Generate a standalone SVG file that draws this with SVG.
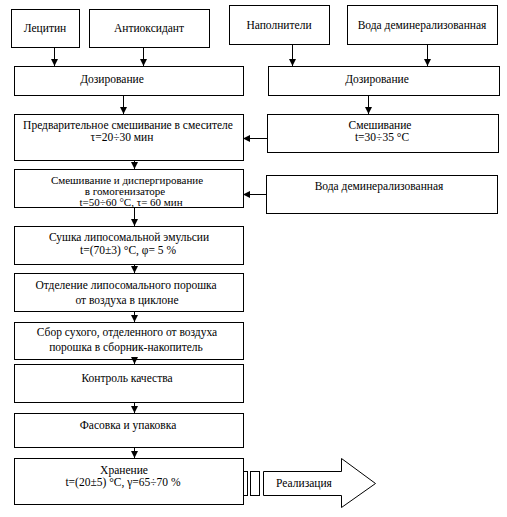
<svg xmlns="http://www.w3.org/2000/svg" width="507" height="517" viewBox="0 0 507 517" font-family="'Liberation Serif', 'DejaVu Serif', serif">
<defs>
<style>
rect.b{fill:#fff;stroke:#000;stroke-width:1}
text{font-family:'Liberation Serif','DejaVu Serif',serif;font-size:11.5px;fill:#000;text-anchor:middle}
text.s{font-size:11px}
.c line{stroke:#000;stroke-width:1;marker-end:url(#ah)}
</style>
<marker id="ah" markerUnits="userSpaceOnUse" markerWidth="8" markerHeight="8" refX="7" refY="3.5" orient="auto">
<path d="M0,0 L7,3.5 L0,7 z" fill="#000"/>
</marker>
</defs>
<rect width="507" height="517" fill="#fff"/>
<g id="n-lecithin"><rect class="b" x="11.5" y="9.5" width="68" height="38"/><text x="45" y="32">Лецитин</text></g>
<g id="n-antioxidant"><rect class="b" x="89.5" y="9.5" width="120" height="38"/><text x="149" y="32">Антиоксидант</text></g>
<g id="n-fillers"><rect class="b" x="229.5" y="5.5" width="100" height="39"/><text x="279" y="29">Наполнители</text></g>
<g id="n-water1"><rect class="b" x="347.5" y="5.5" width="150" height="39"/><text x="422" y="29">Вода деминерализованная</text></g>
<g id="n-dose-left"><rect class="b" x="14.5" y="66.5" width="229" height="29"/><text x="112" y="83">Дозирование</text></g>
<g id="n-dose-right"><rect class="b" x="268.5" y="66.5" width="231" height="29"/><text x="377" y="83">Дозирование</text></g>
<g id="n-premix"><rect class="b" x="14.5" y="114.5" width="229" height="46"/><text x="128" y="129">Предварительное смешивание в смесителе</text><text x="122" y="141">τ=20÷30 мин</text></g>
<g id="n-mix"><rect class="b" x="267.5" y="114.5" width="231" height="38"/><text x="380" y="129">Смешивание</text><text x="382" y="141">t=30÷35 °С</text></g>
<g id="n-homog"><rect class="b" x="14.5" y="169.5" width="229" height="38"/><text class="s" x="127" y="184">Смешивание и диспергирование</text><text class="s" x="125" y="195">в гомогенизаторе</text><text class="s" x="131" y="205.5">t=50÷60 °С, τ= 60 мин</text></g>
<g id="n-water2"><rect class="b" x="266.5" y="175.5" width="231" height="38"/><text x="379" y="190">Вода деминерализованная</text></g>
<g id="n-dry"><rect class="b" x="14.5" y="226.5" width="229" height="38"/><text x="129" y="241">Сушка липосомальной эмульсии</text><text x="128" y="254">t=(70±3) °С, φ= 5 %</text></g>
<g id="n-sep"><rect class="b" x="14.5" y="273.5" width="229" height="38"/><text x="126" y="289">Отделение липосомального порошка</text><text x="127" y="304">от воздуха в циклоне</text></g>
<g id="n-collect"><rect class="b" x="14.5" y="322.5" width="229" height="37"/><text x="127" y="336">Сбор сухого, отделенного от воздуха</text><text x="126" y="351">порошка в сборник-накопитель</text></g>
<g id="n-qc"><rect class="b" x="14.5" y="364.5" width="229" height="38"/><text x="127" y="382">Контроль качества</text></g>
<g id="n-pack"><rect class="b" x="14.5" y="413.5" width="229" height="34"/><text x="128" y="429">Фасовка и упаковка</text></g>
<g id="n-store"><rect class="b" x="14.5" y="458.5" width="229" height="46"/><text x="124" y="474">Хранение</text><text x="123" y="486">t=(20±5) °С, γ=65÷70 %</text></g>
<g id="n-sale">
<rect class="b" x="243.5" y="471.5" width="4" height="24"/>
<rect class="b" x="250.5" y="471.5" width="9" height="24"/>
<path d="M263.5,471.5 H341.5 V458.5 L375.5,483.5 L341.5,507.5 V495.5 H263.5 Z" fill="#fff" stroke="#000"/>
<text x="304" y="487">Реализация</text>
</g>
<g id="connectors" class="c">
<line x1="54.5" y1="47" x2="54.5" y2="66"/>
<line x1="143.5" y1="47" x2="143.5" y2="66"/>
<line x1="292.5" y1="44" x2="292.5" y2="66"/>
<line x1="427.5" y1="44" x2="427.5" y2="66"/>
<line x1="123.5" y1="95" x2="123.5" y2="114"/>
<line x1="368.5" y1="95" x2="368.5" y2="114"/>
<line x1="267" y1="138.5" x2="243" y2="138.5"/>
<line x1="134.5" y1="160" x2="134.5" y2="169"/>
<line x1="266" y1="194.5" x2="243" y2="194.5"/>
<line x1="134.5" y1="207" x2="134.5" y2="226"/>
<line x1="134.5" y1="264" x2="134.5" y2="273"/>
<line x1="134.5" y1="311" x2="134.5" y2="322"/>
<line x1="134.5" y1="359" x2="134.5" y2="364"/>
<line x1="134.5" y1="402" x2="134.5" y2="413"/>
<line x1="134.5" y1="447" x2="134.5" y2="458"/>
</g>
</svg>
